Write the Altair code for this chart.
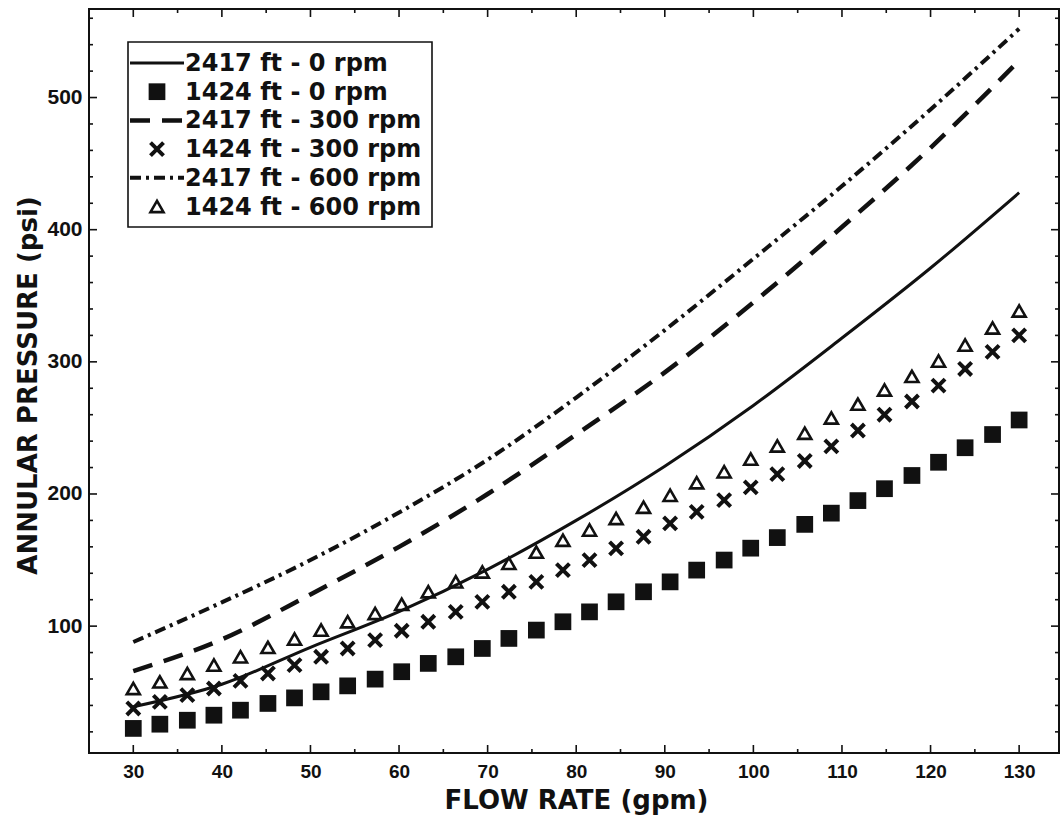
import altair as alt
import pandas as pd

# Model curves, 2417 ft (flow rate in gpm, annular pressure in psi)
line_gpm = [30, 40, 50, 60, 70, 80, 90, 100, 110, 120, 130]
p2417_0rpm = [39, 56, 84, 111, 143, 180, 221, 267, 318, 371, 428]
p2417_300rpm = [66, 90, 124, 160, 200, 245, 292, 345, 402, 462, 528]
p2417_600rpm = [88, 118, 150, 186, 226, 273, 324, 378, 433, 491, 552]

# Point series, 1424 ft
point_gpm = [30.0, 33.0, 36.1, 39.1, 42.1, 45.2, 48.2, 51.2, 54.2, 57.3,
             60.3, 63.3, 66.4, 69.4, 72.4, 75.5, 78.5, 81.5, 84.5, 87.6,
             90.6, 93.6, 96.7, 99.7, 102.7, 105.8, 108.8, 111.8, 114.8, 117.9,
             120.9, 123.9, 127.0, 130.0]
p1424_0rpm = [22.6, 25.8, 28.8, 32.6, 36.4, 41.5, 45.7, 50.3, 54.8, 59.9,
              65.5, 71.8, 76.8, 83.1, 90.7, 97.0, 103.3, 110.8, 118.4, 126.0,
              133.5, 142.4, 150.0, 159.0, 167.0, 177.0, 185.5, 195.0, 204.0, 214.0,
              224.0, 235.0, 245.0, 256.0]
p1424_300rpm = [37.7, 42.7, 47.8, 52.8, 58.6, 64.2, 70.5, 76.8, 83.1, 89.4,
                96.5, 103.3, 110.8, 118.4, 126.0, 133.5, 142.4, 150.0, 158.8, 167.6,
                177.8, 186.5, 195.4, 205.0, 215.0, 225.0, 236.0, 248.0, 260.0, 270.0,
                282.0, 294.6, 307.5, 320.0]
p1424_600rpm = [52.8, 57.8, 64.2, 70.5, 76.8, 83.9, 90.2, 97.0, 103.3, 109.6,
                116.5, 126.0, 133.5, 141.0, 147.5, 156.0, 165.0, 172.7, 181.5, 190.0,
                199.0, 208.5, 216.8, 226.4, 236.3, 246.0, 257.5, 268.0, 278.7, 289.0,
                300.6, 312.7, 325.6, 338.5]

legend_labels = ["2417 ft - 0 rpm", "1424 ft - 0 rpm", "2417 ft - 300 rpm",
                 "1424 ft - 300 rpm", "2417 ft - 600 rpm", "1424 ft - 600 rpm"]

x_major = [30, 40, 50, 60, 70, 80, 90, 100, 110, 120, 130]
x_minor = [35, 45, 55, 65, 75, 85, 95, 105, 115, 125]
y_major = [100, 200, 300, 400, 500]
y_minor = [20, 40, 60, 80, 120, 140, 160, 180, 220, 240, 260, 280, 320, 340,
           360, 380, 420, 440, 460, 480, 520, 540, 560]

INK = "#111111"
W, H = 970, 744

x_scale = alt.Scale(domain=[25, 134.5], nice=False, zero=False)
y_scale = alt.Scale(domain=[4, 567], nice=False, zero=False)

X_AXIS = alt.Axis(values=x_major, title="FLOW RATE (gpm)", grid=False, domain=False,
                  ticks=False, tickSize=0, labelPadding=9, labelFont="Liberation Sans",
                  labelFontSize=19, labelFontWeight="bold", labelColor=INK,
                  titleFont="DejaVu Sans", titleFontSize=26, titleFontWeight="bold",
                  titleColor=INK, titleX=487, titleY=47, titleBaseline="middle",
                  titleAlign="center", labelFlush=False)
Y_AXIS = alt.Axis(values=y_major, title="ANNULAR PRESSURE (psi)", grid=False, domain=False,
                  ticks=False, tickSize=0, labelPadding=7, labelFont="Liberation Sans",
                  labelFontSize=21, labelFontWeight="bold", labelColor=INK,
                  titleFont="DejaVu Sans", titleFontSize=26, titleFontWeight="bold",
                  titleColor=INK, titleX=-61, titleY=376, titleBaseline="middle",
                  titleAlign="center", labelFlush=False)


def xenc():
    return alt.X("gpm:Q", scale=x_scale, axis=X_AXIS)


def yenc():
    return alt.Y("psi:Q", scale=y_scale, axis=Y_AXIS)


line_styles = {
    "2417 ft - 0 rpm": dict(strokeWidth=3),
    "2417 ft - 300 rpm": dict(strokeWidth=4.5, strokeDash=[20, 12]),
    "2417 ft - 600 rpm": dict(strokeWidth=4, strokeDash=[11, 5, 3, 5]),
}
point_styles = {
    "1424 ft - 0 rpm": dict(shape="square", filled=True, size=280, strokeWidth=0),
    "1424 ft - 300 rpm": dict(shape="M-1,-1L1,1M-1,1L1,-1", filled=False, size=170,
                              strokeWidth=4),
    "1424 ft - 600 rpm": dict(shape="triangle-up", filled=False, size=170, strokeWidth=2.6),
}

line_values = {
    "2417 ft - 0 rpm": p2417_0rpm,
    "2417 ft - 300 rpm": p2417_300rpm,
    "2417 ft - 600 rpm": p2417_600rpm,
}
point_values = {
    "1424 ft - 0 rpm": p1424_0rpm,
    "1424 ft - 300 rpm": p1424_300rpm,
    "1424 ft - 600 rpm": p1424_600rpm,
}

layers = []
for name, vals in line_values.items():
    df = pd.DataFrame({"gpm": line_gpm, "psi": vals})
    layers.append(
        alt.Chart(df).mark_line(color=INK, interpolate="monotone", **line_styles[name]).encode(
            x=xenc(), y=yenc())
    )

for name, vals in point_values.items():
    df = pd.DataFrame({"gpm": point_gpm, "psi": vals})
    layers.append(
        alt.Chart(df).mark_point(color=INK, opacity=1, **point_styles[name]).encode(
            x=xenc(), y=yenc())
    )


# Inward tick marks on all four sides of the frame
def x_ticks(vals, length):
    df = pd.DataFrame({"gpm": vals})
    bottom = alt.Chart(df).mark_rule(color=INK, strokeWidth=1.6).encode(
        x=xenc(), y=alt.value(H), y2=alt.value(H - length))
    top = alt.Chart(df).mark_rule(color=INK, strokeWidth=1.6).encode(
        x=xenc(), y=alt.value(0), y2=alt.value(length))
    return [bottom, top]


def y_ticks(vals, length):
    df = pd.DataFrame({"psi": vals})
    left = alt.Chart(df).mark_rule(color=INK, strokeWidth=1.6).encode(
        y=yenc(), x=alt.value(0), x2=alt.value(length))
    right = alt.Chart(df).mark_rule(color=INK, strokeWidth=1.6).encode(
        y=yenc(), x=alt.value(W), x2=alt.value(W - length))
    return [left, right]


layers += x_ticks(x_major, 8) + x_ticks(x_minor, 4)
layers += y_ticks(y_major, 8) + y_ticks(y_minor, 4)

# Legend box with line samples, symbols and labels
one = pd.DataFrame({"k": [0]})
layers.append(
    alt.Chart(one).mark_rect(fill="white", stroke=INK, strokeWidth=1.6).encode(
        x=alt.value(39), x2=alt.value(343), y=alt.value(33), y2=alt.value(218))
)
for i, label in enumerate(legend_labels):
    ry = 54 + 28.7 * i
    if label in line_styles:
        layers.append(
            alt.Chart(one).mark_rule(color=INK, **line_styles[label]).encode(
                x=alt.value(41), x2=alt.value(95), y=alt.value(ry))
        )
    else:
        layers.append(
            alt.Chart(one).mark_point(color=INK, opacity=1, **point_styles[label]).encode(
                x=alt.value(68), y=alt.value(ry))
        )
    layers.append(
        alt.Chart(one).mark_text(text=label, align="left", baseline="middle",
                                 font="DejaVu Sans", fontSize=24, fontWeight="bold",
                                 color=INK).encode(
            x=alt.value(96), y=alt.value(ry + 1))
    )

chart = alt.layer(*layers).properties(
    width=W, height=H,
    autosize=alt.AutoSizeParams(type="none"),
    padding={"left": 89, "top": 9, "right": 2, "bottom": 63},
    background="white",
).configure_view(stroke=INK, strokeWidth=2)

chart.save("out.html", embed_options={"renderer": "svg", "actions": False})
